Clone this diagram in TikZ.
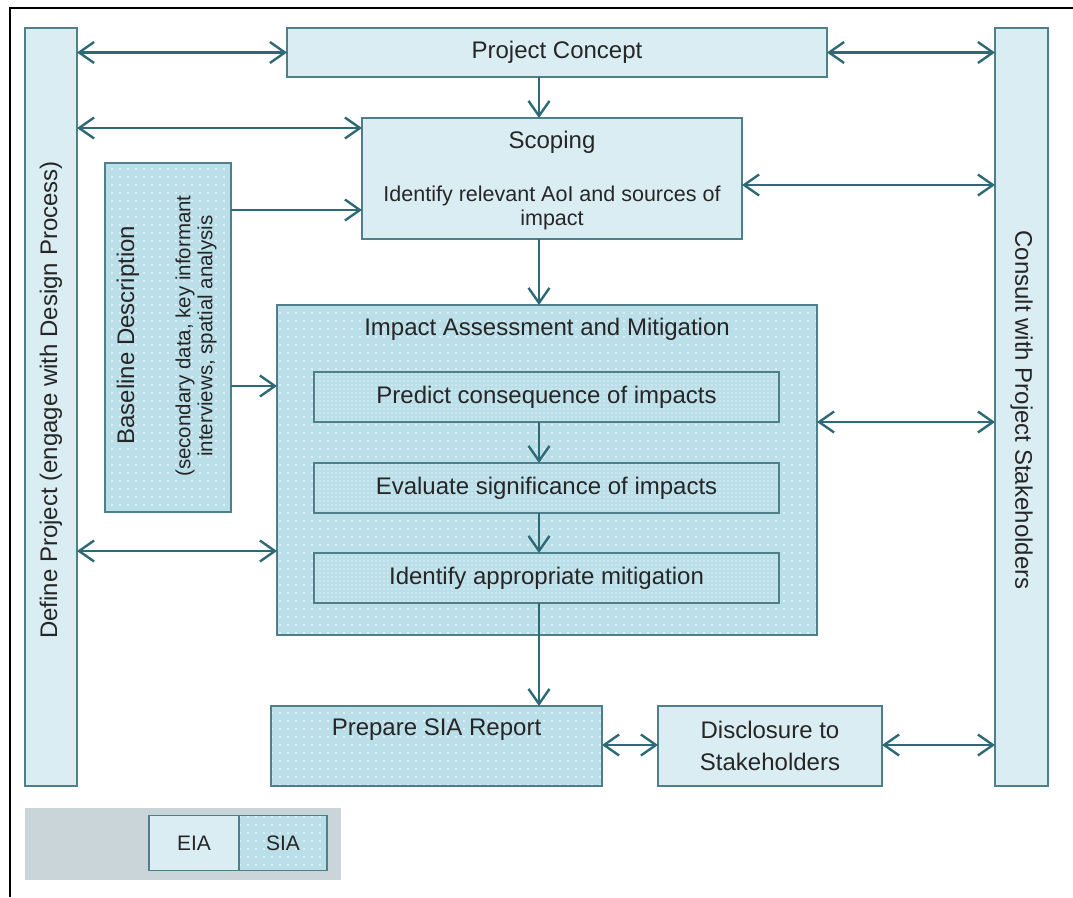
\documentclass[tikz,border=0pt]{standalone}
\usepackage{fontspec}
\setmainfont{Liberation Sans}
\usetikzlibrary{arrows.meta,patterns,calc}
\definecolor{lightbox}{HTML}{DAEDF3}
\definecolor{dotbox}{HTML}{BBDFE9}
\definecolor{edge}{HTML}{4E7F8B}
\definecolor{arrowc}{HTML}{2E6976}
\definecolor{legendgray}{HTML}{C9D5D9}
\definecolor{txt}{HTML}{262626}
\pgfdeclarepatternformonly{coarsedots}{\pgfqpoint{-1pt}{-1pt}}{\pgfqpoint{1pt}{1pt}}{\pgfqpoint{8pt}{8pt}}{\pgfpathcircle{\pgfqpoint{0pt}{0pt}}{0.9pt}\pgfusepath{fill}}
\pgfdeclarepatternformonly{finedots}{\pgfqpoint{-1pt}{-1pt}}{\pgfqpoint{1pt}{1pt}}{\pgfqpoint{4pt}{4pt}}{\pgfpathcircle{\pgfqpoint{0pt}{0pt}}{0.6pt}\pgfusepath{fill}}
\tikzset{
  box/.style={draw=edge, line width=1.8pt, inner sep=0pt, outer sep=0pt, text=txt, align=center, font=\fontsize{24}{32}\selectfont},
  eiabox/.style={box, fill=lightbox},
  siabox/.style={box, fill=dotbox, postaction={pattern=coarsedots, pattern color=white}, postaction={draw=edge, line width=1.8pt}},
  sianested/.style={box, fill=dotbox, postaction={pattern=finedots, pattern color=white}, postaction={draw=edge, line width=1.8pt}},
  lbl/.style={text=txt, inner sep=0pt, font=\fontsize{24}{28}\selectfont},
  conn/.style={draw=arrowc, line width=2.4pt},
}
\begin{document}
\begin{tikzpicture}[x=1pt,y=-1pt, >={Straight Barb[length=15pt,width=21pt]}]
\useasboundingbox (0,0) rectangle (1073,897);
\draw[line width=2.5pt, black] (10,897) -- (10,8) -- (1073,8);

% side bars
\node[eiabox, minimum width=52pt, minimum height=758pt] (def) at (51,407) {};
\node[lbl, rotate=90] (deft) at (51,400) {Define Project (engage with Design Process)};
\node[eiabox, minimum width=53pt, minimum height=758pt] (cons) at (1021.5,407) {};
\node[lbl, rotate=-90] (const) at (1021.5,410) {Consult with Project Stakeholders};

% main boxes
\node[eiabox, minimum width=540pt, minimum height=49pt] (conc) at (557,52.5) {Project Concept};
\node[eiabox, minimum width=380pt, minimum height=121pt] (scop) at (552,178.5) {};
\node[lbl] (scopt) at (552,142) {Scoping};
\node[lbl, font=\fontsize{21.5}{23.5}\selectfont, align=center] (scopb) at (552,208) {Identify relevant AoI and sources of\\impact};

\node[siabox, minimum width=126pt, minimum height=349pt] (base) at (168,337.5) {};
\node[lbl, rotate=90] (baset) at (128,335) {Baseline Description};
\node[lbl, rotate=90, font=\fontsize{20.5}{22}\selectfont] (baseb1) at (185,336) {(secondary data, key informant};
\node[lbl, rotate=90, font=\fontsize{20.5}{22}\selectfont] (baseb2) at (207,336) {interviews, spatial analysis};

\node[siabox, minimum width=540pt, minimum height=330pt] (imp) at (547,470) {};
\node[lbl] (impt) at (547,329) {Impact Assessment and Mitigation};
\node[sianested, minimum width=465pt, minimum height=50pt] (pred) at (546.5,397) {Predict consequence of impacts};
\node[sianested, minimum width=465pt, minimum height=50pt] (eval) at (546.5,488) {Evaluate significance of impacts};
\node[sianested, minimum width=465pt, minimum height=50pt] (iden) at (546.5,578) {Identify appropriate mitigation};

\node[siabox, minimum width=331pt, minimum height=80pt] (prep) at (436.5,746) {};
\node[lbl] (prept) at (436.5,730) {Prepare SIA Report};
\node[eiabox, minimum width=224pt, minimum height=80pt] (disc) at (770,746) {Disclosure to\\Stakeholders};

% legend
\fill[legendgray] (25,808) rectangle (341,880);
\node[eiabox, minimum width=90pt, minimum height=55pt, font=\fontsize{21}{24}\selectfont] (eia) at (194,843) {EIA};
\node[siabox, minimum width=88pt, minimum height=55pt, font=\fontsize{21}{24}\selectfont] (sia) at (283,843) {SIA};

% helper coordinates
\coordinate (y128) at (0,128);
\coordinate (y185) at (0,185);
\coordinate (y210) at (0,210);
\coordinate (y386) at (0,386);
\coordinate (y422) at (0,422);
\coordinate (y551) at (0,551);
\coordinate (y745) at (0,745);
\coordinate (x539) at (539,0);

% connectors
\draw[conn,<->] (def.east |- conc.west) -- (conc.west);
\draw[conn,<->] (conc.east) -- (cons.west |- conc.east);
\draw[conn,<->] (def.east |- y128) -- (scop.west |- y128);
\draw[conn,->] (base.east |- y210) -- (scop.west |- y210);
\draw[conn,<->] (scop.east |- y185) -- (cons.west |- y185);
\draw[conn,->] (conc.south -| x539) -- (scop.north -| x539);
\draw[conn,->] (scop.south -| x539) -- (imp.north -| x539);
\draw[conn,->] (base.east |- y386) -- (imp.west |- y386);
\draw[conn,<->] (imp.east |- y422) -- (cons.west |- y422);
\draw[conn,<->] (def.east |- y551) -- (imp.west |- y551);
\draw[conn,->] (pred.south -| x539) -- (eval.north -| x539);
\draw[conn,->] (eval.south -| x539) -- (iden.north -| x539);
\draw[conn,->] (iden.south -| x539) -- (prep.north -| x539);
\draw[conn,<->] (prep.east |- y745) -- (disc.west |- y745);
\draw[conn,<->] (disc.east |- y745) -- (cons.west |- y745);
\end{tikzpicture}
\end{document}
